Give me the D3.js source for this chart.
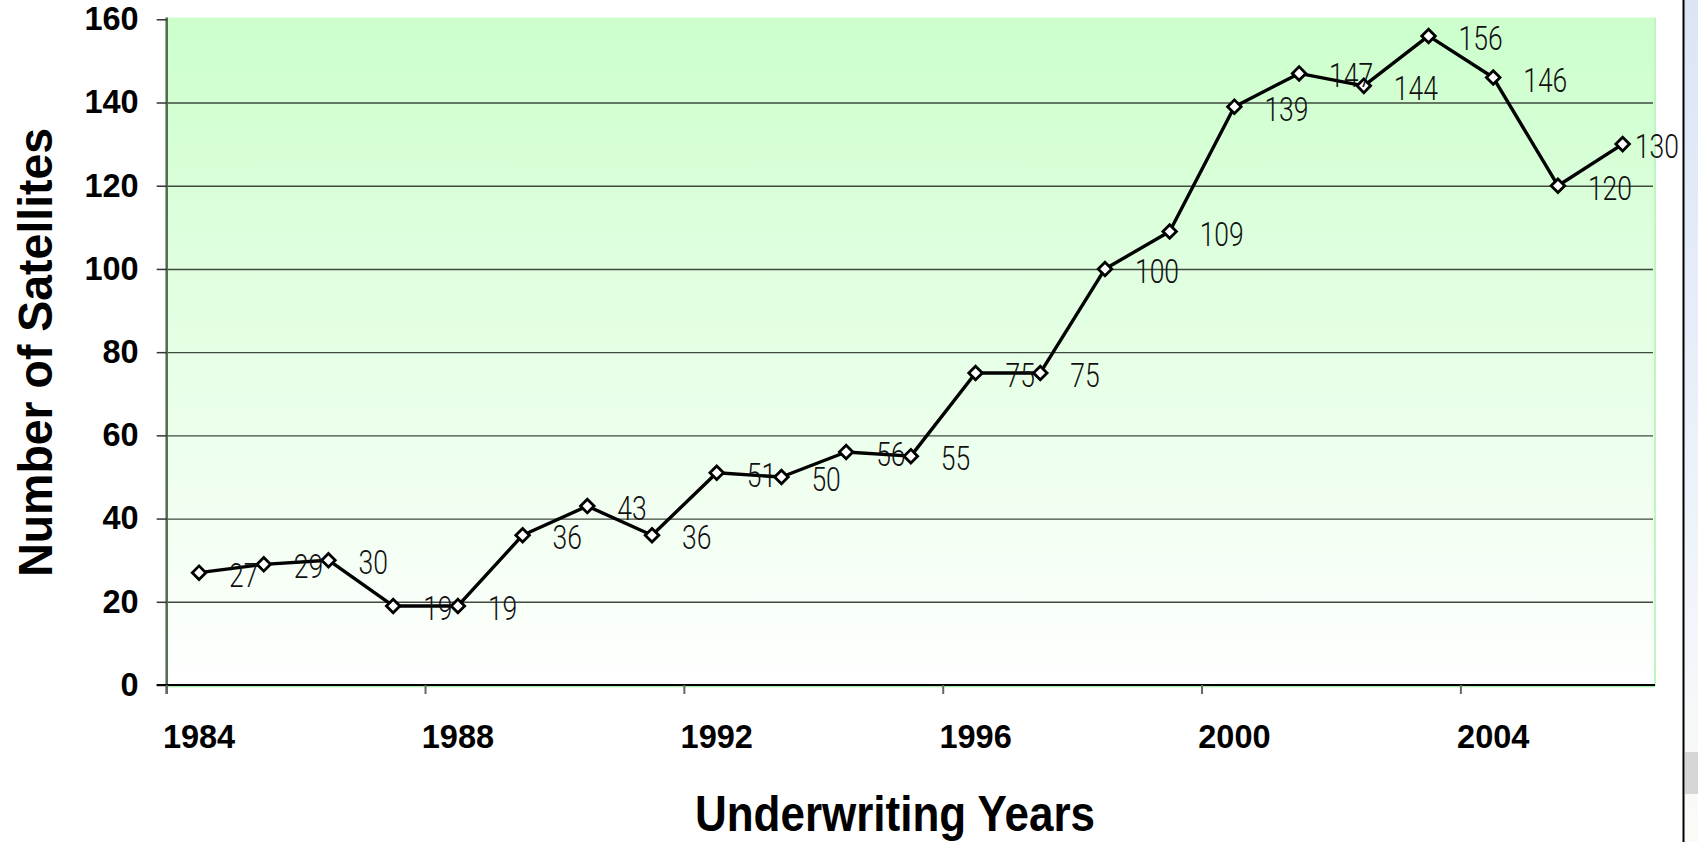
<!DOCTYPE html>
<html>
<head>
<meta charset="utf-8">
<script src="https://cdn.jsdelivr.net/npm/d3@7"></script>
<style>
  body { margin: 0; background: #fff; }
  svg { display: block; }
</style>
</head>
<body>
<svg id="chart" width="1698" height="842"></svg>
<script>
// Underwriting years (one category per year)
const years = [1984, 1985, 1986, 1987, 1988, 1989, 1990, 1991, 1992, 1993, 1994, 1995,
               1996, 1997, 1998, 1999, 2000, 2001, 2002, 2003, 2004, 2005, 2006];
// Number of satellites insured per year
const satellites = [27, 29, 30, 19, 19, 36, 43, 36, 51, 50, 56, 55,
                    75, 75, 100, 109, 139, 147, 144, 156, 146, 120, 130];
const yTicks = [0, 20, 40, 60, 80, 100, 120, 140, 160];
const xTickYears = [1984, 1988, 1992, 1996, 2000, 2004];

const W = 1698, H = 842;
const plot = { left: 166.7, right: 1655, top: 17.5, bottom: 685 };

const svg = d3.select("#chart");

const x = d3.scaleBand().domain(years).range([plot.left, plot.right]).padding(0);
const y = d3.scaleLinear().domain([0, 160]).range([plot.bottom, 19.3]);
const cx = d => x(d) + x.bandwidth() / 2;

// Right-hand page strip
const defs = svg.append("defs");
const sideGrad = defs.append("linearGradient").attr("id", "sideGrad")
  .attr("x1", 0).attr("y1", 0).attr("x2", 0).attr("y2", 1);
sideGrad.append("stop").attr("offset", "0%").attr("stop-color", "#dbe5f6");
sideGrad.append("stop").attr("offset", "70%").attr("stop-color", "#f1f5fb");
sideGrad.append("stop").attr("offset", "100%").attr("stop-color", "#fbfbf6");
svg.append("rect").attr("x", 1684).attr("y", 0).attr("width", W - 1684).attr("height", H)
  .attr("fill", "url(#sideGrad)");
svg.append("rect").attr("x", 1685).attr("y", 752).attr("width", W - 1685).attr("height", 42)
  .attr("fill", "#d6d6d6");
svg.append("line").attr("x1", 1683.5).attr("x2", 1683.5).attr("y1", 0).attr("y2", H)
  .attr("stroke", "#000").attr("stroke-width", 2);

// Plot area background: green fading to white
const bgGrad = defs.append("linearGradient").attr("id", "bgGrad")
  .attr("x1", 0).attr("y1", 0).attr("x2", 0).attr("y2", 1);
bgGrad.append("stop").attr("offset", "0%").attr("stop-color", "#ccffcc");
bgGrad.append("stop").attr("offset", "100%").attr("stop-color", "#ffffff");
svg.append("rect")
  .attr("x", plot.left).attr("y", plot.top)
  .attr("width", plot.right - plot.left).attr("height", plot.bottom - plot.top)
  .attr("fill", "url(#bgGrad)");
svg.append("line").attr("x1", plot.right).attr("x2", plot.right)
  .attr("y1", plot.top).attr("y2", plot.bottom + 1)
  .attr("stroke", "#bff5bf").attr("stroke-width", 2);
svg.append("line").attr("x1", plot.left).attr("x2", plot.right)
  .attr("y1", plot.bottom + 1.5).attr("y2", plot.bottom + 1.5)
  .attr("stroke", "#a8eca8").attr("stroke-width", 1.5);

// Horizontal gridlines
const grid = svg.append("g")
  .attr("transform", `translate(${plot.left},0)`)
  .call(d3.axisLeft(y).tickValues(yTicks.filter(v => v > 0 && v < 160))
    .tickSize(-(plot.right - 2 - plot.left)).tickFormat(""));
grid.select(".domain").remove();
grid.selectAll(".tick line").attr("stroke", "#3f4a3f").attr("stroke-width", 1.4);

// Y axis
const yAxis = svg.append("g")
  .attr("transform", `translate(${plot.left},0)`)
  .call(d3.axisLeft(y).tickValues(yTicks).tickSize(10).tickPadding(18).tickSizeOuter(0));
yAxis.select(".domain").attr("stroke", "#4f6a4f").attr("stroke-width", 2.5)
  .attr("d", `M0,${plot.top}V${plot.bottom + 9}`);
yAxis.selectAll(".tick line").attr("stroke", "#333").attr("stroke-width", 1.5);
yAxis.selectAll(".tick text")
  .attr("font-family", "'Liberation Sans', Arial, sans-serif")
  .attr("font-weight", "bold").attr("font-size", 32.5).attr("fill", "#000");

// X axis: tick marks at category boundaries, labels centred on categories
const xAxis = svg.append("g")
  .attr("transform", `translate(0,${plot.bottom})`)
  .call(d3.axisBottom(x).tickValues(xTickYears).tickSize(9).tickPadding(31).tickSizeOuter(0));
xAxis.select(".domain").attr("stroke", "#000").attr("stroke-width", 1.8)
  .attr("d", `M${plot.left - 10},0H${plot.right}`);
xAxis.selectAll(".tick line")
  .attr("x1", -x.bandwidth() / 2).attr("x2", -x.bandwidth() / 2)
  .attr("stroke", "#666").attr("stroke-width", 2);
xAxis.selectAll(".tick text")
  .attr("font-family", "'Liberation Sans', Arial, sans-serif")
  .attr("font-weight", "bold").attr("font-size", 32.5).attr("fill", "#000");

// Axis titles
svg.append("text")
  .attr("transform", "translate(51.5,352.3) rotate(-90)")
  .attr("text-anchor", "middle")
  .attr("font-family", "'Liberation Sans', Arial, sans-serif")
  .attr("font-weight", "bold").attr("font-size", 49)
  .attr("textLength", 449).attr("lengthAdjust", "spacingAndGlyphs")
  .text("Number of Satellites");

svg.append("text")
  .attr("x", 895).attr("y", 831)
  .attr("text-anchor", "middle")
  .attr("font-family", "'Liberation Sans', Arial, sans-serif")
  .attr("font-weight", "bold").attr("font-size", 50)
  .attr("textLength", 400).attr("lengthAdjust", "spacingAndGlyphs")
  .text("Underwriting Years");

// Series line
const pts = years.map((yr, i) => ({ year: yr, value: satellites[i] }));
svg.append("path")
  .datum(pts)
  .attr("fill", "none").attr("stroke", "#000").attr("stroke-width", 3.4)
  .attr("stroke-linejoin", "round")
  .attr("d", d3.line().x(d => cx(d.year)).y(d => y(d.value)));

// Diamond markers (rotated squares)
svg.append("g").selectAll("path")
  .data(pts).join("path")
  .attr("d", d3.symbol().type(d3.symbolSquare).size(92))
  .attr("transform", d => `translate(${cx(d.year)},${y(d.value)}) rotate(45)`)
  .attr("fill", "#fff").attr("stroke", "#000").attr("stroke-width", 2.8);

// Value labels to the right of each point in a condensed face, kept inside the chart edge
const digitW = 14.7;
const labels = svg.append("g").selectAll("text")
  .data(pts).join("text")
  .attr("x", d => cx(d.year) + 30)
  .attr("y", d => y(d.value) + 2)
  .attr("dy", "0.36em")
  .attr("font-family", "Roboto, 'Liberation Sans', sans-serif")
  .attr("font-weight", 300)
  .attr("font-size", 33.5).attr("fill", "#111")
  .attr("textLength", d => String(d.value).length * digitW)
  .attr("lengthAdjust", "spacingAndGlyphs")
  .text(d => d.value);
labels.each(function (d) {
  const w = String(d.value).length * digitW;
  const x0 = +this.getAttribute("x");
  if (x0 + w > 1679) this.setAttribute("x", 1679 - w);
});
</script>
</body>
</html>
